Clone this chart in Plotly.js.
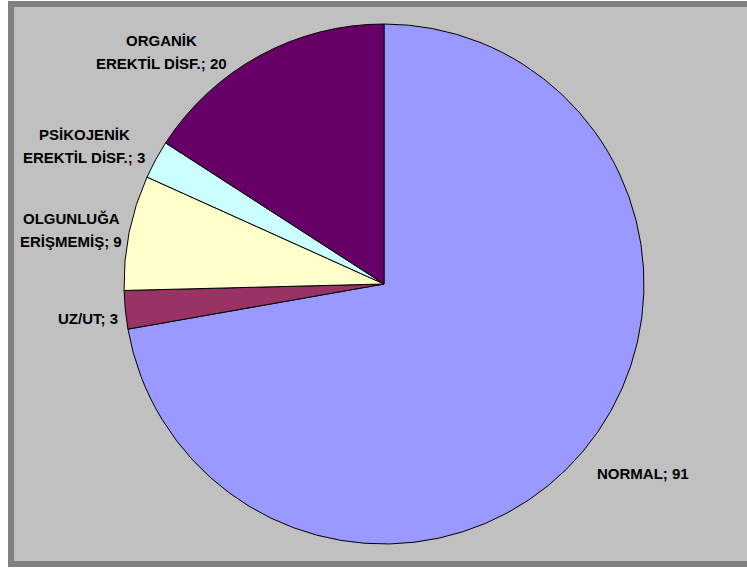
<!DOCTYPE html>
<html>
<head>
<meta charset="utf-8">
<script src="https://cdn.plot.ly/plotly-3.0.1.min.js"></script>
<style>html,body{margin:0;padding:0;background:#fff;}#chart{width:747px;height:569px;}</style>
</head>
<body>
<div id="chart"></div>
<script>
// Data
const categories = ['NORMAL', 'UZ/UT', 'OLGUNLUĞA\nERİŞMEMİŞ', 'PSİKOJENİK\nEREKTİL DİSF.', 'ORGANİK\nEREKTİL DİSF.'];
const values = [91, 3, 9, 3, 20];
const colors = ['#9999FF', '#993366', '#FFFFCC', '#CCFFFF', '#660066'];

// Label placement (pixel centers of each label block) - layout only
const labelPos = [[643, 473], [88, 318], [71, 230], [84, 146], [161, 52]];
const lineGap = 22.5;

const W = 747, H = 569;
const annotations = [];
categories.forEach((c, i) => {
  const lines = c.split('\n');
  lines[lines.length - 1] += '; ' + values[i];
  const n = lines.length;
  lines.forEach((ln, k) => {
    const py = labelPos[i][1] + (k - (n - 1) / 2) * lineGap;
    annotations.push({
      xref: 'paper', yref: 'paper',
      x: labelPos[i][0] / W, y: 1 - py / H,
      xanchor: 'center', yanchor: 'middle',
      text: '<b>' + ln + '</b>', showarrow: false,
      font: {family: 'Liberation Sans, Arial, sans-serif', size: 15, color: '#000'}
    });
  });
});

const trace = {
  type: 'pie',
  labels: categories.map(c => c.replace('\n', ' ')),
  values: values,
  sort: false,
  direction: 'clockwise',
  rotation: 0,
  textinfo: 'none',
  hoverinfo: 'label+value',
  marker: {colors: colors, line: {color: '#000000', width: 1}},
  domain: {x: [124 / W, 644 / W], y: [1 - 544 / H, 1 - 24 / H]},
  showlegend: false
};

const layout = {
  width: W, height: H,
  margin: {l: 0, r: 0, t: 0, b: 0},
  paper_bgcolor: '#FFFFFF',
  showlegend: false,
  shapes: [{
    type: 'rect', xref: 'paper', yref: 'paper', layer: 'below',
    x0: 11 / W, x1: 770 / W, y0: 1 - 564 / H, y1: 1 - 4 / H,
    line: {color: '#808080', width: 6}, fillcolor: '#C0C0C0'
  }],
  annotations: annotations
};

Plotly.newPlot('chart', [trace], layout, {displayModeBar: false, staticPlot: true});
</script>
</body>
</html>
